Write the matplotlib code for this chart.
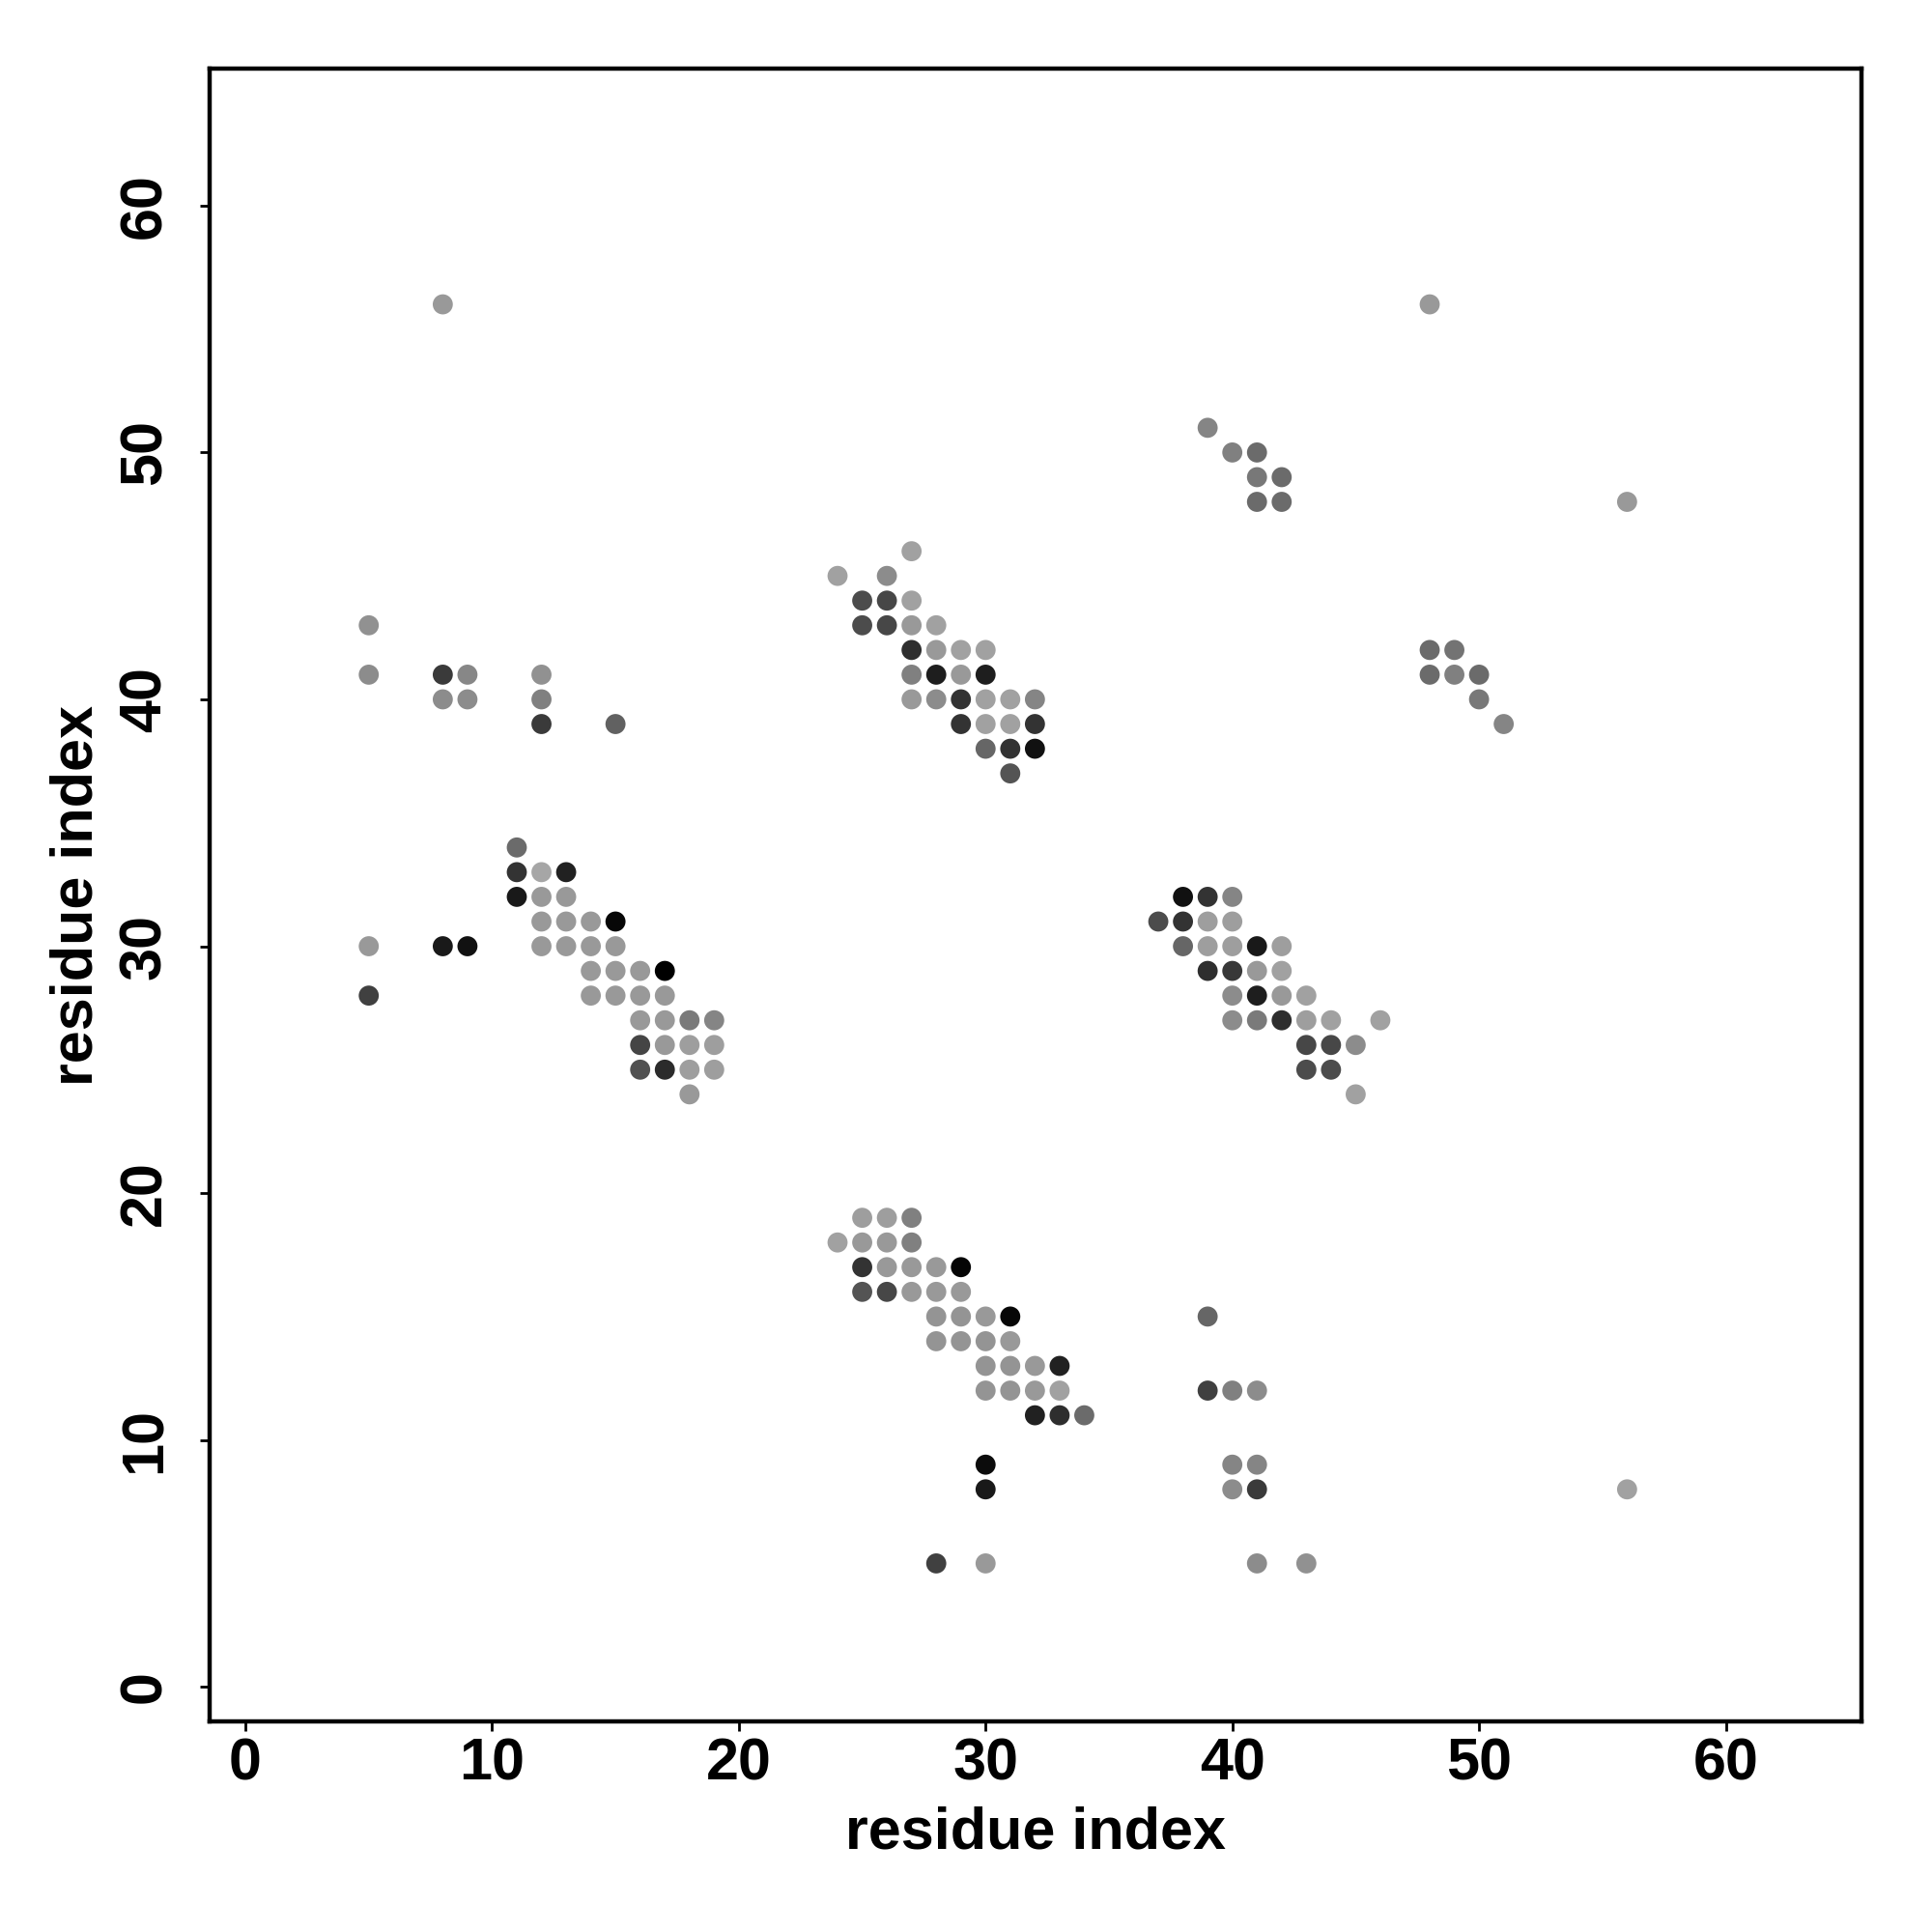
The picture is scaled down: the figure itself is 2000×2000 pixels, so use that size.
#!/usr/bin/env python3
import numpy as np
import matplotlib
matplotlib.use("Agg")
import matplotlib.pyplot as plt

plt.rcParams["font.family"] = ["Liberation Sans", "DejaVu Sans"]
plt.rcParams["font.weight"] = "bold"

# contact pairs (residue i on x, residue j on y) and grey level (0 = black, 1 = white)
res_i = [
    8, 48, 39, 40, 41, 41, 42, 41, 42, 56,
    27, 24, 26, 25, 26, 27, 5, 25, 26, 27, 28, 5, 8, 9, 12, 27, 28, 29, 30,
    48, 49, 48, 49, 50,
    8, 9, 12, 27, 28, 29, 30, 27, 28, 29, 30, 31, 32, 50,
    12, 15, 29, 30, 31, 32, 51, 30, 31, 32, 31,
    11, 11, 12, 13, 11, 12, 13, 38, 39, 40,
    12, 13, 14, 15, 37, 38, 39, 40,
    5, 8, 9, 12, 13, 14, 15, 38, 39, 40, 41, 42,
    14, 15, 16, 17, 39, 40, 41, 42,
    5, 14, 15, 16, 17, 40, 41, 42, 43,
    16, 17, 18, 19, 40, 41, 42, 43, 44, 46,
    16, 17, 18, 19, 43, 44, 45,
    16, 17, 18, 19, 43, 44,
    18, 45,
    25, 26, 27, 24, 25, 26, 27,
    25, 26, 27, 28, 29, 25, 26, 27, 28, 29,
    28, 29, 30, 31, 39, 28, 29, 30, 31,
    30, 31, 32, 33, 30, 31, 32, 33, 39, 40, 41,
    32, 33, 34,
    30, 40, 41, 30, 40, 41, 56,
    28, 30, 41, 43,
]
res_j = [
    56, 56, 51, 50, 50, 49, 49, 48, 48, 48,
    46, 45, 45, 44, 44, 44, 43, 43, 43, 43, 43, 41, 41, 41, 41, 42, 42, 42, 42,
    42, 42, 41, 41, 41,
    40, 40, 40, 41, 41, 41, 41, 40, 40, 40, 40, 40, 40, 40,
    39, 39, 39, 39, 39, 39, 39, 38, 38, 38, 37,
    34, 33, 33, 33, 32, 32, 32, 32, 32, 32,
    31, 31, 31, 31, 31, 31, 31, 31,
    30, 30, 30, 30, 30, 30, 30, 30, 30, 30, 30, 30,
    29, 29, 29, 29, 29, 29, 29, 29,
    28, 28, 28, 28, 28, 28, 28, 28, 28,
    27, 27, 27, 27, 27, 27, 27, 27, 27, 27,
    26, 26, 26, 26, 26, 26, 26,
    25, 25, 25, 25, 25, 25,
    24, 24,
    19, 19, 19, 18, 18, 18, 18,
    17, 17, 17, 17, 17, 16, 16, 16, 16, 16,
    15, 15, 15, 15, 15, 14, 14, 14, 14,
    13, 13, 13, 13, 12, 12, 12, 12, 12, 12, 12,
    11, 11, 11,
    9, 9, 9, 8, 8, 8, 8,
    5, 5, 5, 5,
]
shade = [
    0.60, 0.60, 0.52, 0.50, 0.42, 0.47, 0.42, 0.42, 0.42, 0.60,
    0.63, 0.63, 0.55, 0.30, 0.28, 0.63, 0.57, 0.30, 0.28, 0.60, 0.63, 0.55, 0.23, 0.53, 0.57, 0.18, 0.60, 0.63, 0.63,
    0.42, 0.45, 0.42, 0.50, 0.42,
    0.55, 0.55, 0.50, 0.50, 0.12, 0.60, 0.12, 0.60, 0.55, 0.20, 0.63, 0.63, 0.52, 0.47,
    0.23, 0.38, 0.20, 0.63, 0.63, 0.20, 0.52, 0.40, 0.20, 0.07, 0.33,
    0.42, 0.20, 0.65, 0.13, 0.10, 0.60, 0.60, 0.07, 0.20, 0.52,
    0.60, 0.60, 0.60, 0.03, 0.30, 0.20, 0.62, 0.62,
    0.60, 0.10, 0.07, 0.60, 0.60, 0.60, 0.60, 0.40, 0.62, 0.62, 0.10, 0.62,
    0.60, 0.60, 0.60, 0.00, 0.18, 0.22, 0.60, 0.63,
    0.25, 0.60, 0.60, 0.60, 0.60, 0.55, 0.12, 0.60, 0.63,
    0.60, 0.60, 0.48, 0.52, 0.55, 0.48, 0.18, 0.62, 0.63, 0.63,
    0.27, 0.60, 0.62, 0.62, 0.28, 0.28, 0.55,
    0.32, 0.17, 0.62, 0.62, 0.30, 0.30,
    0.60, 0.63,
    0.62, 0.62, 0.50, 0.63, 0.60, 0.60, 0.50,
    0.20, 0.60, 0.60, 0.60, 0.02, 0.33, 0.28, 0.60, 0.60, 0.60,
    0.58, 0.58, 0.60, 0.03, 0.40, 0.58, 0.58, 0.58, 0.60,
    0.58, 0.58, 0.60, 0.13, 0.58, 0.58, 0.60, 0.63, 0.25, 0.50, 0.55,
    0.13, 0.18, 0.42,
    0.05, 0.52, 0.52, 0.10, 0.55, 0.23, 0.63,
    0.25, 0.60, 0.55, 0.57,
]

ticks = [0, 10, 20, 30, 40, 50, 60]

fig = plt.figure(figsize=(10, 10), dpi=200)
ax = fig.add_axes([0.1085, 0.109, 0.855, 0.8555])

ax.scatter(res_i, res_j, c=shade, cmap="gray", vmin=0.0, vmax=1.0,
           s=56, linewidths=0, zorder=3)

ax.set_xlim(-1.45, 65.5)
ax.set_ylim(-1.4, 65.55)
ax.set_xticks(ticks)
ax.set_yticks(ticks)
ax.set_xticklabels([str(t) for t in ticks], fontsize=22, fontweight="bold")
ax.set_yticklabels([str(t) for t in ticks], fontsize=22, fontweight="bold",
                   rotation=90, va="center")
ax.tick_params(direction="out", length=3.6, width=1.0, color="black")
ax.tick_params(axis="x", pad=2.5)
ax.tick_params(axis="y", pad=10)

for sp in ax.spines.values():
    sp.set_linewidth(1.6)

ax.set_xlabel("residue index", fontsize=22, fontweight="bold", labelpad=5)
ax.set_ylabel("residue index", fontsize=22, fontweight="bold", labelpad=5)

fig.savefig("out.png", dpi=200, facecolor="white")
